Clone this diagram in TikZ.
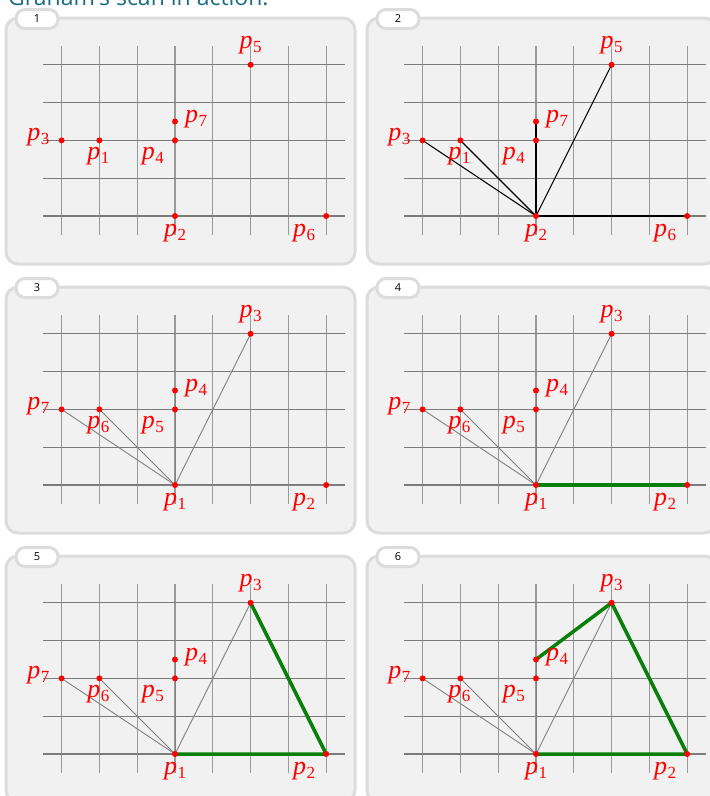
\documentclass[tikz,border=0pt]{standalone}
\usepackage{fontspec}
\newfontfamily\osans{Open Sans}
\newfontfamily\lser{Liberation Serif}
\definecolor{framefill}{HTML}{F1F1F1}
\definecolor{frameline}{HTML}{DCDCDC}
\definecolor{titleteal}{HTML}{1A6D7F}
\definecolor{hullgreen}{HTML}{0A800A}
\definecolor{gridv}{HTML}{9A9A9A}
\definecolor{gridh}{HTML}{7C7C7C}
\definecolor{raygray}{HTML}{808080}
\tikzset{
  panelframe/.style={draw=frameline, fill=framefill, line width=3pt, rounded corners=12pt},
  paneltab/.style={draw=frameline, fill=white, line width=3pt, rounded corners=9pt,
    minimum width=42pt, minimum height=19pt, inner sep=0pt, font=\osans\fontsize{11}{11}\selectfont},
  gridvline/.style={draw=gridv, line width=1.2pt},
  gridhline/.style={draw=gridh, line width=1.1pt},
  pointdot/.style={fill=red},
  ptlabel/.style={text=red, inner sep=0pt, font=\lser\fontsize{26}{30}\selectfont},
  rayblack/.style={draw=black, line width=1.1pt},
  raygrey/.style={draw=raygray, line width=0.9pt},
  hull/.style={draw=hullgreen, line width=3.5pt, line join=round, line cap=round},
}
\newcommand\plab[1]{{\itshape p}\kern0.5pt\raisebox{-4pt}{\fontsize{17}{17}\selectfont #1}}
\newcommand\gframe[1]{%
  \path[panelframe] (0,0) rectangle (349,246);
  \node[paneltab] (tab#1) at (31,1) {#1};
  \begin{scope}[shift={(169,198)}, x=37.8pt, y=37.8pt]
    \foreach \i in {-3,...,4} \draw[gridvline] (\i,-0.5) -- (\i,4.5);
    \foreach \j in {0,...,4} \draw[gridhline] (-3.5,\j) -- (4.5,\j);
    \coordinate (#1A) at (0,0);
    \coordinate (#1B) at (4,0);
    \coordinate (#1C) at (2,4);
    \coordinate (#1D) at (0,2.5);
    \coordinate (#1E) at (0,2);
    \coordinate (#1F) at (-2,2);
    \coordinate (#1G) at (-3,2);
  \end{scope}
}
\newcommand\gpoints[8]{%
  \foreach \k in {A,B,C,D,E,F,G} \fill[pointdot] (#1\k) circle (3pt);
  \node[ptlabel, anchor=base] (#1lA) at ([yshift=-20pt]#1A) {\plab{#2}};
  \node[ptlabel, anchor=base east] (#1lB) at ([xshift=-11pt,yshift=-20pt]#1B) {\plab{#3}};
  \node[ptlabel, anchor=base] (#1lC) at ([yshift=16pt]#1C) {\plab{#4}};
  \node[ptlabel, anchor=base west] (#1lD) at ([xshift=10pt,yshift=-1pt]#1D) {\plab{#5}};
  \node[ptlabel, anchor=base east] (#1lE) at ([xshift=-11pt,yshift=-19pt]#1E) {\plab{#6}};
  \node[ptlabel, anchor=base] (#1lF) at ([xshift=-1pt,yshift=-19pt]#1F) {\plab{#7}};
  \node[ptlabel, anchor=base east] (#1lG) at ([xshift=-12pt]#1G) {\plab{#8}};
}
\newcommand\grays[1]{%
  \foreach \k in {G,F,E,D,C,B} \draw[raygrey] (#1A) -- (#1\k);
}
\begin{document}
\begin{tikzpicture}[x=1pt, y=-1pt]
\clip (0,0) rectangle (710,796);
\node[anchor=base west, inner sep=0pt, text=titleteal, font=\osans\fontsize{23}{23}\selectfont] (title) at (8,5) {Graham's scan in action.};
% panel 1
\begin{scope}[shift={(6,18)}]
  \gframe{1}
  \gpoints{1}{2}{6}{5}{7}{4}{1}{3}
\end{scope}
% panel 2
\begin{scope}[shift={(367,18)}]
  \gframe{2}
  \foreach \k in {G,F,E,D,C,B} \draw[rayblack] (2A) -- (2\k);
  \gpoints{2}{2}{6}{5}{7}{4}{1}{3}
\end{scope}
% panel 3
\begin{scope}[shift={(6,287)}]
  \gframe{3}
  \grays{3}
  \gpoints{3}{1}{2}{3}{4}{5}{6}{7}
\end{scope}
% panel 4
\begin{scope}[shift={(367,287)}]
  \gframe{4}
  \grays{4}
  \draw[hull] (4A) -- (4B);
  \gpoints{4}{1}{2}{3}{4}{5}{6}{7}
\end{scope}
% panel 5
\begin{scope}[shift={(6,556)}]
  \gframe{5}
  \grays{5}
  \draw[hull] (5A) -- (5B) -- (5C);
  \gpoints{5}{1}{2}{3}{4}{5}{6}{7}
\end{scope}
% panel 6
\begin{scope}[shift={(367,556)}]
  \gframe{6}
  \grays{6}
  \draw[hull] (6A) -- (6B) -- (6C) -- (6D);
  \gpoints{6}{1}{2}{3}{4}{5}{6}{7}
\end{scope}
\end{tikzpicture}
\end{document}
